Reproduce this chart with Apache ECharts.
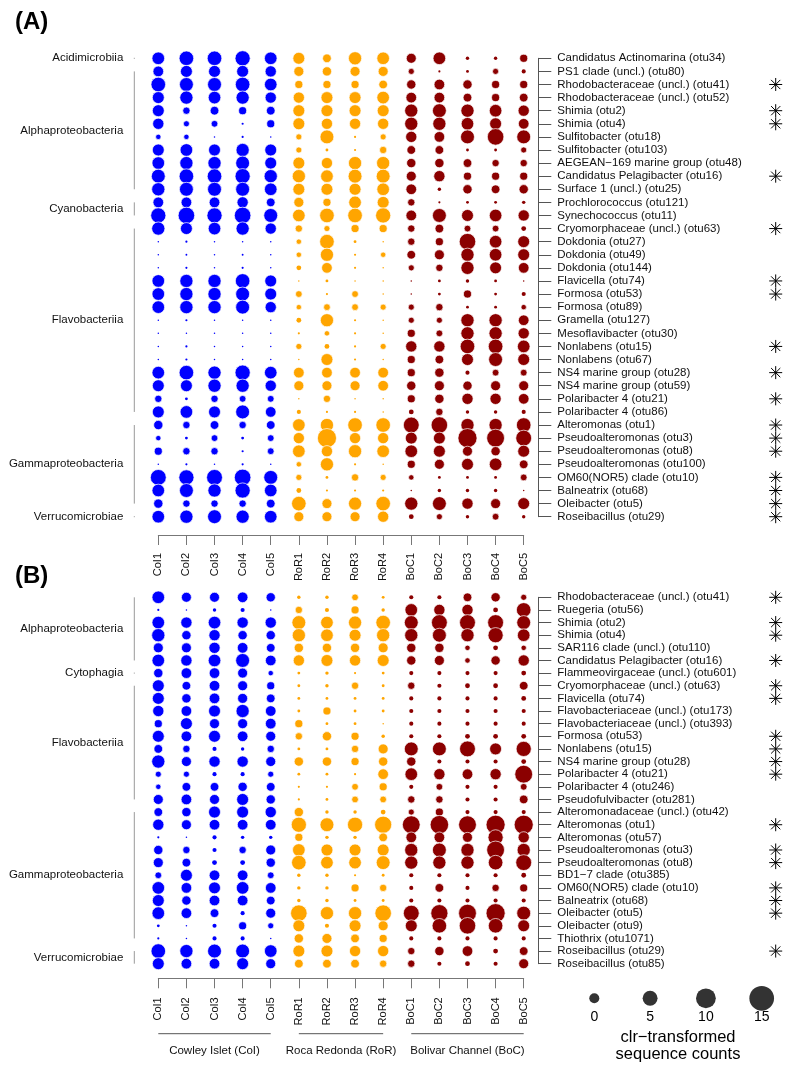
<!DOCTYPE html>
<html>
<head>
<meta charset="utf-8">
<title>clr bubble chart</title>
<script src="https://cdn.jsdelivr.net/npm/echarts@6/dist/echarts.min.js"></script>
<style>
  html, body { margin: 0; padding: 0; background: #fff; }
  #main { width: 786px; height: 1066px; }
</style>
</head>
<body>
<div id="main"></div>
<script>
var FONT = '"Liberation Sans", Arial, Helvetica, sans-serif';

var samples = ['CoI1', 'CoI2', 'CoI3', 'CoI4', 'CoI5', 'RoR1', 'RoR2', 'RoR3', 'RoR4', 'BoC1', 'BoC2', 'BoC3', 'BoC4', 'BoC5'];
var sites = [['Cowley Islet (CoI)', 0, 4], ['Roca Redonda (RoR)', 5, 8], ['Bolivar Channel (BoC)', 9, 13]];
var siteColors = ['#0000ff', '#ffa500', '#8b0000'];
var legendVals = [0, 5, 10, 15];
var starredOtus = ['otu41', 'otu2', 'otu4', 'otu16', 'otu63', 'otu74', 'otu53', 'otu15', 'otu28', 'otu21', 'otu1', 'otu3', 'otu8', 'otu10', 'otu68', 'otu5', 'otu29'];

// panel A
var otusA = [
  'Candidatus Actinomarina (otu34)', 'PS1 clade (uncl.) (otu80)', 'Rhodobacteraceae (uncl.) (otu41)',
  'Rhodobacteraceae (uncl.) (otu52)', 'Shimia (otu2)', 'Shimia (otu4)', 'Sulfitobacter (otu18)',
  'Sulfitobacter (otu103)', 'AEGEAN\u2212169 marine group (otu48)', 'Candidatus Pelagibacter (otu16)',
  'Surface 1 (uncl.) (otu25)', 'Prochlorococcus (otu121)', 'Synechococcus (otu11)',
  'Cryomorphaceae (uncl.) (otu63)', 'Dokdonia (otu27)', 'Dokdonia (otu49)', 'Dokdonia (otu144)',
  'Flavicella (otu74)', 'Formosa (otu53)', 'Formosa (otu89)', 'Gramella (otu127)',
  'Mesoflavibacter (otu30)', 'Nonlabens (otu15)', 'Nonlabens (otu67)', 'NS4 marine group (otu28)',
  'NS4 marine group (otu59)', 'Polaribacter 4 (otu21)', 'Polaribacter 4 (otu86)', 'Alteromonas (otu1)',
  'Pseudoalteromonas (otu3)', 'Pseudoalteromonas (otu8)', 'Pseudoalteromonas (otu100)',
  'OM60(NOR5) clade (otu10)', 'Balneatrix (otu68)', 'Oleibacter (otu5)', 'Roseibacillus (otu29)'
];
var classesA = [
  ['Acidimicrobiia', 0, 0], ['Alphaproteobacteria', 1, 10], ['Cyanobacteria', 11, 12],
  ['Flavobacteriia', 13, 27], ['Gammaproteobacteria', 28, 34], ['Verrucomicrobiae', 35, 35]
];
var valuesA = [
  [2.7, 4.7, 4.7, 5.3, 2.7, 2.0, -1.3, 3.3, 2.7, 0.0, 2.7, -6.7, -6.7, -2.0],
  [0.7, 2.0, 2.0, 2.0, 1.3, 0.0, -0.7, 0.0, 0.0, -4.0, -8.0, -7.3, -4.0, -6.0],
  [4.7, 4.0, 4.0, 4.7, 2.7, -2.0, -2.0, -2.0, -1.3, -0.7, 0.7, -0.7, -2.0, -2.0],
  [2.0, 3.3, 2.7, 3.3, 1.3, 1.3, 2.0, 2.0, 2.7, 0.7, 0.7, -1.3, -2.0, -1.3],
  [2.0, -2.7, -1.3, -2.0, -1.3, 2.0, 2.0, 2.0, 2.0, 3.3, 4.0, 3.3, 2.7, 1.3],
  [1.3, -4.0, -3.3, -8.0, -2.0, 2.0, 1.3, 1.3, 1.3, 3.3, 3.3, 2.7, 2.0, 0.7],
  [-4.7, -4.7, -8.7, -8.0, -9.0, -4.0, 4.0, -8.0, -4.0, 1.3, 0.7, 4.0, 6.7, 4.0],
  [2.0, 2.7, 2.0, 3.3, 2.0, -4.0, -7.3, -8.0, -2.7, -1.3, -1.3, -7.3, -7.3, -4.0],
  [2.7, 3.3, 3.3, 4.0, 2.0, 2.0, 1.3, 3.3, 3.3, -0.7, -0.7, -1.3, -2.7, -2.7],
  [4.0, 4.7, 4.7, 5.3, 3.3, 3.3, 2.7, 4.0, 4.0, 0.0, 1.3, -2.0, -2.0, -2.0],
  [3.3, 4.0, 4.0, 4.0, 2.7, 2.0, 2.0, 2.0, 2.7, 0.7, -6.7, -0.7, -1.3, -0.7],
  [0.7, 0.7, 0.7, 1.3, -1.3, 0.0, -2.0, 2.7, 2.0, -2.7, -8.0, -7.3, -7.3, -6.7],
  [5.3, 6.7, 5.3, 6.7, 4.0, 2.7, 4.7, 4.7, 5.3, 0.7, 4.0, 2.0, 2.7, 1.3],
  [3.3, 2.0, 2.7, 3.3, 1.3, -2.7, -4.0, -2.0, -2.0, -2.7, -1.3, -3.3, -3.3, -5.3],
  [-8.7, -8.0, -8.7, -8.7, -9.0, -4.7, 4.7, -7.3, -8.7, -2.7, -2.0, 6.7, 2.7, 2.0],
  [-9.3, -8.3, -8.7, -8.3, -8.7, -4.7, 3.3, -8.0, -4.7, -1.3, 0.0, 3.3, 2.7, 2.0],
  [-8.7, -8.0, -8.7, -8.0, -8.7, -5.3, 0.7, -8.0, -8.7, -4.0, -2.7, 3.3, 2.0, 0.7],
  [2.7, 3.3, 3.3, 4.7, 2.0, -9.3, -7.3, -8.7, -9.3, -9.3, -7.3, -6.7, -7.3, -9.3],
  [2.7, 3.3, 3.3, 4.0, 2.0, -3.3, -8.0, -3.3, -9.3, -9.7, -7.3, -2.0, -7.3, -6.0],
  [2.7, 3.3, 3.3, 4.0, 1.3, -4.7, -3.3, -3.3, -4.0, -4.0, -2.7, -7.3, -7.3, -4.7],
  [-8.7, -8.0, -8.7, -8.7, -9.0, -5.3, 3.3, -8.0, -8.7, -4.0, -4.0, 3.3, 3.3, 0.7],
  [-9.0, -8.7, -9.0, -8.7, -9.0, -8.0, -4.7, -8.0, -8.7, -2.0, -3.3, 3.3, 3.3, 1.3],
  [-8.7, -8.0, -9.0, -8.7, -8.7, -4.0, -5.3, -8.0, -4.0, 1.3, 1.3, 4.7, 4.7, 2.7],
  [-8.7, -8.0, -8.7, -8.7, -8.7, -9.0, 2.0, -8.0, -9.0, -2.0, -1.3, 2.0, 4.0, 2.0],
  [2.7, 4.7, 3.3, 5.3, 2.7, 0.7, 0.7, 0.7, 0.7, -2.0, -0.7, -6.0, -3.3, -3.3],
  [2.0, 2.0, 3.3, 3.3, 1.3, 0.0, 0.0, 0.0, 0.7, -0.7, 0.0, -0.7, 0.0, 0.0],
  [-2.7, -7.3, -2.7, -3.3, -3.3, -8.7, -2.7, -8.7, -9.0, -2.0, -0.7, 1.3, 1.3, 0.7],
  [2.0, 2.7, 2.0, 4.0, 0.7, -6.0, -8.0, -8.0, -8.7, -5.3, -2.7, -6.7, -6.7, -6.0],
  [-0.7, -2.7, -1.3, -2.7, -1.3, 2.7, 3.3, 4.7, 4.7, 6.0, 6.7, 3.3, 3.3, 4.7],
  [-4.7, -7.3, -3.3, -7.3, -3.3, 1.3, 9.3, 1.3, 1.3, 2.0, 2.0, 9.3, 8.0, 6.0],
  [-2.0, -2.7, -2.7, -8.0, -3.3, 2.7, 1.3, 3.3, 2.7, 2.7, 2.0, 0.0, -0.7, 2.0],
  [-8.7, -8.0, -8.7, -8.0, -8.7, -4.7, 3.3, -8.0, -9.0, -2.0, 0.0, 2.0, 2.7, -1.3],
  [6.0, 5.3, 6.0, 6.7, 4.0, -4.0, -7.3, -2.7, -4.0, -4.7, -7.3, -7.3, -7.3, -3.3],
  [2.7, 4.0, 3.3, 5.3, 2.7, -5.3, -8.0, -8.0, -8.0, -9.0, -6.7, -6.7, -6.7, -9.0],
  [-0.7, -2.7, -2.7, -2.7, -1.3, 4.7, 0.0, 3.3, 4.7, 3.3, 4.0, 1.3, 0.0, 2.0],
  [2.7, 3.3, 4.0, 3.3, 2.7, 0.0, 0.0, 0.0, 1.3, -5.3, -4.0, -6.7, -3.3, -6.7]
];

// panel B
var otusB = [
  'Rhodobacteraceae (uncl.) (otu41)', 'Ruegeria (otu56)', 'Shimia (otu2)', 'Shimia (otu4)',
  'SAR116 clade (uncl.) (otu110)', 'Candidatus Pelagibacter (otu16)', 'Flammeovirgaceae (uncl.) (otu601)',
  'Cryomorphaceae (uncl.) (otu63)', 'Flavicella (otu74)', 'Flavobacteriaceae (uncl.) (otu173)',
  'Flavobacteriaceae (uncl.) (otu393)', 'Formosa (otu53)', 'Nonlabens (otu15)', 'NS4 marine group (otu28)',
  'Polaribacter 4 (otu21)', 'Polaribacter 4 (otu246)', 'Pseudofulvibacter (otu281)',
  'Alteromonadaceae (uncl.) (otu42)', 'Alteromonas (otu1)', 'Alteromonas (otu57)',
  'Pseudoalteromonas (otu3)', 'Pseudoalteromonas (otu8)', 'BD1\u22127 clade (otu385)',
  'OM60(NOR5) clade (otu10)', 'Balneatrix (otu68)', 'Oleibacter (otu5)', 'Oleibacter (otu9)',
  'Thiothrix (otu1071)', 'Roseibacillus (otu29)', 'Roseibacillus (otu85)'
];
var classesB = [
  ['Alphaproteobacteria', 0, 5], ['Cytophagia', 6, 6], ['Flavobacteriia', 7, 16],
  ['Gammaproteobacteria', 17, 27], ['Verrucomicrobiae', 28, 29]
];
var valuesB = [
  [2.7, 0.0, 0.0, 0.7, -0.7, -6.7, -6.7, -3.3, -7.3, -6.0, -6.0, -1.3, -0.7, -4.0],
  [-8.0, -9.3, -6.7, -6.0, -9.7, -2.7, -6.0, -2.0, -6.7, 2.7, 1.3, 1.3, -5.3, 4.7],
  [2.7, 1.3, 2.7, 1.3, 1.3, 4.0, 2.7, 3.3, 4.7, 4.0, 6.0, 6.0, 6.0, 4.0],
  [3.3, -0.7, 1.3, -0.7, -0.7, 3.3, 2.7, 2.0, 3.3, 3.3, 4.0, 3.3, 5.3, 2.7],
  [0.0, 0.0, 1.3, 0.7, -1.3, -0.7, -0.7, -0.7, 0.0, -0.7, -0.7, -4.7, -5.3, -4.7],
  [2.7, 1.3, 2.7, 4.0, 0.7, 1.3, 2.0, 1.3, 2.0, -0.7, 0.0, -4.7, -0.7, 1.3],
  [-0.7, 0.7, 0.7, 0.0, -4.7, -7.3, -6.7, -8.0, -7.3, -6.0, -6.0, -6.0, -6.0, -5.3],
  [2.0, -1.3, 0.7, 0.0, -2.0, -7.3, -6.7, -2.7, -7.3, -2.7, -6.0, -5.3, -5.3, -1.3],
  [2.0, -0.7, 0.7, 0.0, -1.3, -7.3, -7.3, -7.3, -7.3, -6.0, -6.0, -6.0, -6.0, -5.3],
  [1.3, 0.7, 2.0, 3.3, 0.7, -7.3, -2.0, -7.3, -7.3, -6.0, -6.0, -6.0, -6.0, -6.0],
  [-2.0, 2.0, 0.0, 0.0, 0.7, -2.0, -7.3, -7.3, -8.7, -6.0, -6.0, -6.0, -6.0, -6.0],
  [2.0, 0.7, 2.0, 0.7, 0.0, -2.7, -0.7, -2.0, -6.7, -6.0, -6.0, -5.3, -5.3, -5.3],
  [-1.3, -2.7, -6.0, -6.7, -2.7, -7.3, -7.3, -2.7, 0.0, 4.0, 4.0, 6.0, 2.0, 5.3],
  [3.3, 0.0, 1.3, 1.3, 0.0, -0.7, -0.7, -2.0, -0.7, -0.7, -6.0, -6.0, -6.0, -5.3],
  [-4.0, -4.0, -6.0, -6.0, -4.0, -7.3, -7.3, -8.0, 0.7, 2.7, 1.3, 0.7, 1.3, 8.0],
  [-4.7, -1.3, -1.3, -0.7, -1.3, -8.0, -8.0, -3.3, -2.0, -6.0, -3.3, -6.0, -6.0, -3.3],
  [0.0, 0.7, 0.0, 2.0, -0.7, -8.0, -7.3, -3.3, -3.3, -2.7, -2.7, -6.0, -6.0, -1.3],
  [-1.3, -0.7, 2.0, 2.0, 1.3, -0.7, -6.7, -6.7, -5.3, -4.0, -2.0, -6.0, -6.0, -6.0],
  [1.3, 0.0, 0.7, 0.7, 0.7, 5.3, 4.0, 5.3, 7.3, 8.0, 8.7, 8.0, 9.3, 9.3],
  [-8.0, -8.7, -6.0, -6.7, -6.7, -2.0, -6.7, -6.7, -1.3, 0.7, 0.7, 0.0, 5.3, 1.3],
  [-0.7, -2.7, -6.0, -2.7, 0.0, 2.7, 2.0, 2.0, 2.0, 3.3, 4.0, 3.3, 8.0, 3.3],
  [0.0, -1.3, -5.3, -5.3, -0.7, 4.7, 2.7, 2.7, 4.0, 3.3, 3.3, 3.3, 4.7, 6.0],
  [-3.3, 2.0, 0.7, 0.7, -3.3, -6.7, -6.7, -8.0, -7.3, -6.0, -6.0, -6.0, -6.0, -5.3],
  [2.7, 0.7, 2.0, 2.7, 0.7, -6.7, -6.7, -2.0, -2.7, -6.0, -1.3, -6.0, -2.7, -2.0],
  [2.0, -0.7, 0.7, 0.7, -1.3, -6.7, -6.7, -7.3, -7.3, -6.0, -6.0, -6.0, -6.0, -6.0],
  [2.7, 0.7, -1.3, -6.0, 0.0, 6.7, 3.3, 3.3, 6.7, 6.0, 7.3, 8.0, 9.3, 4.0],
  [-7.3, -8.7, -6.0, -2.0, -4.0, 2.0, -6.0, 2.0, 0.0, 2.0, 4.7, 6.7, 4.7, 2.0],
  [-8.0, -9.7, -6.0, -6.0, -9.3, -0.7, 0.0, -1.3, -2.0, -6.0, -6.0, -6.0, -6.0, -6.0],
  [4.7, 3.3, 4.0, 4.0, 2.7, 2.0, 2.0, 1.3, 1.3, -2.7, -0.7, 0.7, -5.3, -1.3],
  [2.0, 0.7, 0.7, 2.0, 0.0, -1.3, -1.3, -1.3, -2.7, -2.7, -6.0, -5.3, -6.0, 0.0]
];

function bubbleSize(v) {
  return Math.max(1.5, (v + 10.2) * 0.98);
}

function siteColor(col) {
  for (var i = 0; i < sites.length; i++) {
    if (col >= sites[i][1] && col <= sites[i][2]) return siteColors[i];
  }
  return '#000';
}

function bubbleData(values) {
  var out = [];
  values.forEach(function (row, r) {
    row.forEach(function (v, c) {
      out.push({
        value: [c, r, v],
        itemStyle: { color: siteColor(c), borderWidth: bubbleSize(v) > 5 ? 0.7 : 0 }
      });
    });
  });
  return out;
}

function starRows(otus) {
  var out = [];
  otus.forEach(function (name, r) {
    starredOtus.forEach(function (o) {
      if (name.indexOf('(' + o + ')') >= 0) out.push([samples.length - 1, r]);
    });
  });
  return out;
}

// class brackets + names left of the bubbles
function classItem(classes) {
  return function (params, api) {
    var g = classes[params.dataIndex];
    var p1 = api.coord([0, g[1]]);
    var p2 = api.coord([0, g[2]]);
    var x = p1[0] - 24;
    var y1 = p1[1], y2 = p2[1];
    if (y2 - y1 < 1) { y1 -= 0.5; y2 += 0.5; }
    return {
      type: 'group',
      children: [
        { type: 'line', shape: { x1: x, y1: y1, x2: x, y2: y2 }, style: { stroke: '#999', lineWidth: 1 } },
        { type: 'text', x: x - 11, y: (p1[1] + p2[1]) / 2,
          style: { text: g[0], align: 'right', verticalAlign: 'middle', fontSize: 11.5, fontFamily: FONT, fill: '#111' } }
      ]
    };
  };
}

function starItem(params, api) {
  var p = api.coord([api.value(0), api.value(1)]);
  var cx = p[0] + 252, cy = p[1], h = 6.5, d = 4.6;
  var st = { stroke: '#000', lineWidth: 1 };
  return {
    type: 'group',
    children: [
      { type: 'line', shape: { x1: cx - h, y1: cy, x2: cx + h, y2: cy }, style: st },
      { type: 'line', shape: { x1: cx, y1: cy - h, x2: cx, y2: cy + h }, style: st },
      { type: 'line', shape: { x1: cx - d, y1: cy - d, x2: cx + d, y2: cy + d }, style: st },
      { type: 'line', shape: { x1: cx - d, y1: cy + d, x2: cx + d, y2: cy - d }, style: st }
    ]
  };
}

function siteItem(lastRow) {
  return function (params, api) {
    var s = sites[params.dataIndex];
    var p1 = api.coord([s[1], lastRow]);
    var p2 = api.coord([s[2], lastRow]);
    var y = p1[1] + 70;
    return {
      type: 'group',
      children: [
        { type: 'line', shape: { x1: p1[0], y1: y, x2: p2[0], y2: y }, style: { stroke: '#555', lineWidth: 1 } },
        { type: 'text', x: (p1[0] + p2[0]) / 2, y: y + 17,
          style: { text: s[0], align: 'center', verticalAlign: 'middle', fontSize: 11.5, fontFamily: FONT, fill: '#111' } }
      ]
    };
  };
}

function xAxisFor(gridIndex, offset, margin) {
  return {
    type: 'category', gridIndex: gridIndex, data: samples, boundaryGap: false,
    position: 'bottom', offset: offset,
    axisLine: { show: true, lineStyle: { color: '#777', width: 1 } },
    axisTick: { show: true, length: 10, lineStyle: { color: '#777' } },
    axisLabel: { rotate: 90, margin: margin, fontSize: 11, fontFamily: FONT, color: '#111', interval: 0 },
    splitLine: { show: false }
  };
}

function yAxisFor(gridIndex, otus) {
  return {
    type: 'category', gridIndex: gridIndex, data: otus, boundaryGap: false, inverse: true,
    position: 'right', offset: 14.6,
    axisLine: { show: true, lineStyle: { color: '#555', width: 1 } },
    axisTick: { show: true, length: 13, lineStyle: { color: '#555' } },
    axisLabel: { margin: 19, fontSize: 11.5, fontFamily: FONT, color: '#111', interval: 0 },
    splitLine: { show: false }
  };
}

var bubbleBase = {
  type: 'scatter',
  symbol: 'circle',
  symbolSize: function (val) { return bubbleSize(val[2]); },
  itemStyle: { borderColor: '#fff', opacity: 1 },
  clip: false,
  silent: true,
  animation: false
};

var myChart = echarts.init(document.getElementById('main'), null, { renderer: 'canvas' });

var option = {
  backgroundColor: '#fff',
  animation: false,
  textStyle: { fontFamily: FONT },
  title: [
    { text: '(A)', left: 10, top: 5, textStyle: { fontSize: 24, fontWeight: 'bold', color: '#000', fontFamily: FONT } },
    { text: '(B)', left: 10, top: 559, textStyle: { fontSize: 24, fontWeight: 'bold', color: '#000', fontFamily: FONT } }
  ],
  grid: [
    { left: 158.3, top: 58.3, width: 365.4, height: 458.4 },
    { left: 158.3, top: 597.3, width: 365.4, height: 366.4 },
    { left: 594.3, top: 988.3, width: 167.4, height: 20 }
  ],
  xAxis: [
    xAxisFor(0, 18.3, 18),
    xAxisFor(1, 14.6, 19),
    {
      type: 'category', gridIndex: 2, boundaryGap: false,
      data: legendVals.map(String),
      axisLine: { show: false }, axisTick: { show: false },
      axisLabel: { margin: 2, fontSize: 14, fontFamily: FONT, color: '#000' },
      name: 'clr\u2212transformed\nsequence counts',
      nameLocation: 'middle', nameGap: 20,
      nameTextStyle: { fontSize: 16.5, lineHeight: 17.5, fontFamily: FONT, color: '#000' }
    }
  ],
  yAxis: [
    yAxisFor(0, otusA),
    yAxisFor(1, otusB),
    { type: 'value', gridIndex: 2, min: 0, max: 1, show: false }
  ],
  series: [
    Object.assign({}, bubbleBase, { xAxisIndex: 0, yAxisIndex: 0, data: bubbleData(valuesA) }),
    Object.assign({}, bubbleBase, { xAxisIndex: 1, yAxisIndex: 1, data: bubbleData(valuesB) }),
    {
      type: 'scatter', xAxisIndex: 2, yAxisIndex: 2, silent: true, animation: false,
      symbolSize: function (val) { return bubbleSize(val[2]); },
      itemStyle: { color: '#000' },
      data: legendVals.map(function (v, i) { return [i, 0.5, v]; })
    },
    { type: 'custom', xAxisIndex: 0, yAxisIndex: 0, silent: true, animation: false,
      renderItem: classItem(classesA), data: classesA.map(function (g) { return [0, g[1]]; }) },
    { type: 'custom', xAxisIndex: 1, yAxisIndex: 1, silent: true, animation: false,
      renderItem: classItem(classesB), data: classesB.map(function (g) { return [0, g[1]]; }) },
    { type: 'custom', xAxisIndex: 0, yAxisIndex: 0, silent: true, animation: false,
      renderItem: starItem, data: starRows(otusA) },
    { type: 'custom', xAxisIndex: 1, yAxisIndex: 1, silent: true, animation: false,
      renderItem: starItem, data: starRows(otusB) },
    { type: 'custom', xAxisIndex: 1, yAxisIndex: 1, silent: true, animation: false,
      renderItem: siteItem(otusB.length - 1), data: sites.map(function (s) { return [s[1], otusB.length - 1]; }) }
  ]
};

myChart.setOption(option);
</script>
</body>
</html>
